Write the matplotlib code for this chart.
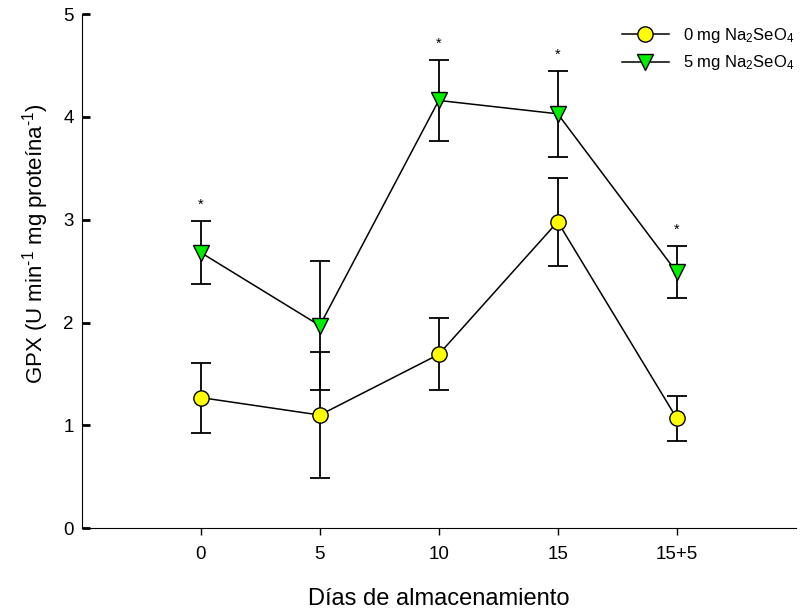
import matplotlib
matplotlib.use("Agg")
import matplotlib.pyplot as plt
from matplotlib.ticker import MultipleLocator

plt.rcParams['font.family'] = ['Liberation Sans', 'DejaVu Sans']
plt.rcParams['mathtext.fontset'] = 'custom'
plt.rcParams['mathtext.rm'] = 'Liberation Sans'
plt.rcParams['mathtext.it'] = 'Liberation Sans:italic'
plt.rcParams['mathtext.bf'] = 'Liberation Sans:bold'

categories = ["0", "5", "10", "15", "15+5"]
gpx_0mg = [1.27, 1.10, 1.69, 2.98, 1.07]
err_0mg = [0.34, 0.61, 0.35, 0.43, 0.22]
gpx_5mg = [2.68, 1.97, 4.16, 4.03, 2.49]
err_5mg = [0.31, 0.63, 0.39, 0.42, 0.25]
significant = [True, False, True, True, True]

x = list(range(len(categories)))

fig = plt.figure(figsize=(8.11, 6.12), dpi=100)
ax = fig.add_axes([0.101, 0.137, 0.880, 0.840])

ax.errorbar(x, gpx_0mg, yerr=err_0mg, fmt='none', ecolor='black', elinewidth=1.3,
            capsize=7, capthick=1.3, zorder=2)
ax.errorbar(x, gpx_5mg, yerr=err_5mg, fmt='none', ecolor='black', elinewidth=1.3,
            capsize=7, capthick=1.3, zorder=2)
ax.plot(x, gpx_0mg, color='black', lw=1.1, marker='o', markersize=11,
        markerfacecolor='#ffff00', markeredgecolor='black', markeredgewidth=1.0,
        label='0 mg Na$_2$SeO$_4$', zorder=3)
ax.plot(x, gpx_5mg, color='black', lw=1.1, marker='v', markersize=11,
        markerfacecolor='#00ee00', markeredgecolor='black', markeredgewidth=1.0,
        label='5 mg Na$_2$SeO$_4$', zorder=3)

for xi, v, e, s in zip(x, gpx_5mg, err_5mg, significant):
    if s:
        ax.text(xi, v + e + 0.09, '*', ha='center', va='bottom', fontsize=10.5)

ax.set_xlim(-1, 5)
ax.set_ylim(0, 5)
ax.set_xticks(x)
ax.set_xticklabels(categories)
ax.yaxis.set_major_locator(MultipleLocator(1))
ax.spines['top'].set_visible(False)
ax.spines['right'].set_visible(False)
ax.tick_params(axis='x', direction='out', length=5, width=1, labelsize=13.5, pad=8)
ax.tick_params(axis='y', direction='in', length=6, width=2, labelsize=13.5, pad=6)
ax.set_xlabel('Días de almacenamiento', fontsize=17, labelpad=18)
ax.set_ylabel('GPX (U min$^{\\text{-}1}$ mg proteína$^{\\text{-}1}$)', fontsize=16, labelpad=9)
ax.yaxis.label.set_y(0.553)

leg = ax.legend(loc='upper left', bbox_to_anchor=(622 / 811, 1 - 26 / 612),
                bbox_transform=fig.transFigure, frameon=False, fontsize=12,
                borderpad=0, borderaxespad=0,
                handlelength=2.8, handletextpad=0.85, labelspacing=0.5)

fig.savefig('out.png', dpi=100)
